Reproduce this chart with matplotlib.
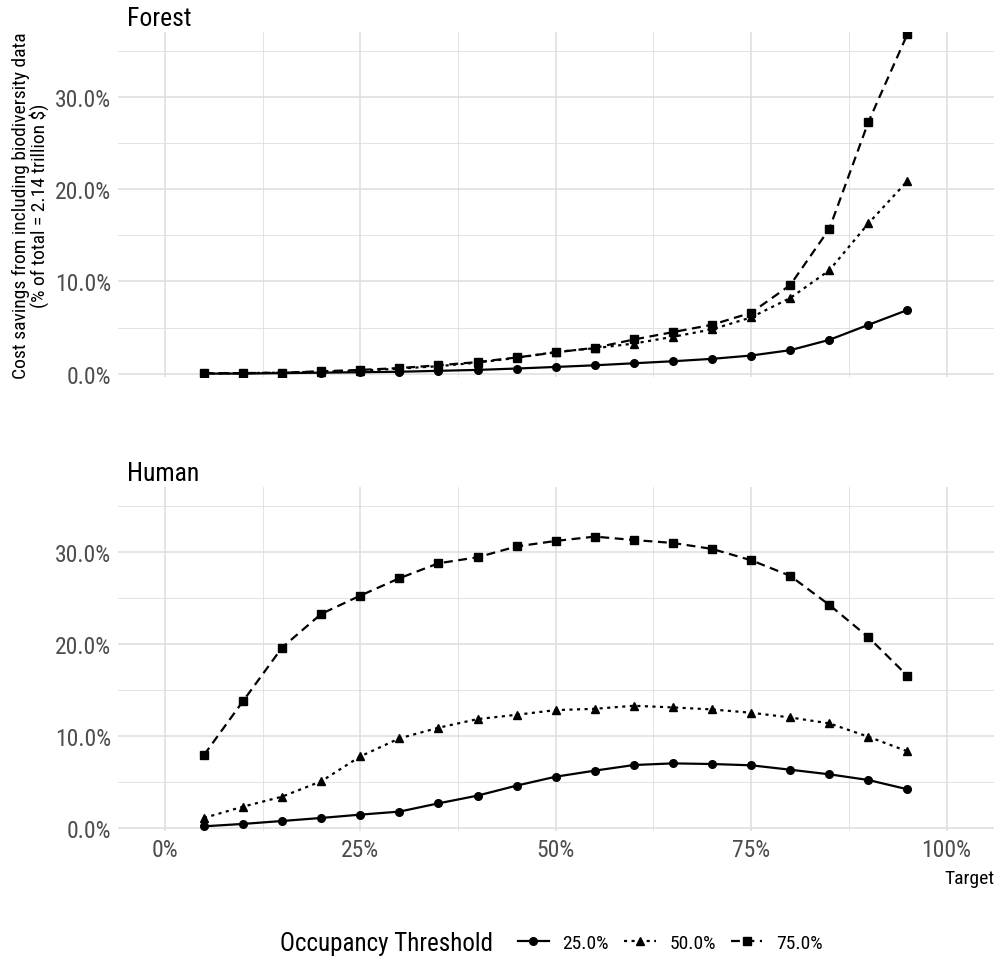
import matplotlib
matplotlib.use("Agg")
import matplotlib.pyplot as plt
from matplotlib import font_manager
from matplotlib.lines import Line2D
from matplotlib.ticker import FuncFormatter

# pick a narrow font if we have one
names = {f.name for f in font_manager.fontManager.ttflist}
for fam in ["Roboto Condensed", "Liberation Sans Narrow", "Roboto"]:
    if fam in names:
        plt.rcParams["font.family"] = fam
        break

# data (percent values)
target = [0.05, 0.10, 0.15, 0.20, 0.25, 0.30, 0.35, 0.40, 0.45, 0.50,
          0.55, 0.60, 0.65, 0.70, 0.75, 0.80, 0.85, 0.90, 0.95]
thresholds = ["25.0%", "50.0%", "75.0%"]

forest_25 = [0.0, 0.0, 0.05, 0.1, 0.15, 0.2, 0.3, 0.4, 0.55, 0.72,
             0.9, 1.12, 1.34, 1.6, 1.96, 2.54, 3.66, 5.29, 6.9]
forest_50 = [0.0, 0.05, 0.1, 0.2, 0.3, 0.55, 0.8, 1.2, 1.7, 2.35,
             2.75, 3.26, 3.99, 4.8, 6.1, 8.2, 11.2, 16.3, 20.9]
forest_75 = [0.05, 0.05, 0.1, 0.25, 0.4, 0.6, 0.9, 1.25, 1.75, 2.3,
             2.8, 3.7, 4.5, 5.3, 6.6, 9.6, 15.7, 27.3, 36.85]

human_25 = [0.14, 0.4, 0.72, 1.05, 1.41, 1.74, 2.64, 3.48, 4.57, 5.54,
            6.2, 6.81, 6.99, 6.92, 6.78, 6.3, 5.8, 5.18, 4.17]
human_50 = [1.05, 2.28, 3.37, 5.04, 7.75, 9.71, 10.87, 11.81, 12.28, 12.79,
            12.93, 13.26, 13.08, 12.86, 12.5, 11.99, 11.34, 9.89, 8.3]
human_75 = [7.9, 13.77, 19.6, 23.26, 25.25, 27.14, 28.77, 29.42, 30.6, 31.2,
            31.67, 31.3, 30.98, 30.33, 29.1, 27.4, 24.24, 20.72, 16.52]

panels = [("Forest", [forest_25, forest_50, forest_75]),
          ("Human", [human_25, human_50, human_75])]

styles = [dict(linestyle="-", marker="o"),
          dict(linestyle=(0, (1.4, 2.0)), marker="^"),
          dict(linestyle=(0, (4, 2.5)), marker="s")]

W, H = 995, 962
fig = plt.figure(figsize=(W / 100, H / 100), dpi=100)

boxes = [(118, 33, 995, 378), (118, 488, 995, 832)]
grid_col = "#DEDEDE"

for (name, series), (l, t, r, b) in zip(panels, boxes):
    ax = fig.add_axes([l / W, 1 - b / H, (r - l) / W, (b - t) / H])
    for vals, st in zip(series, styles):
        ax.plot(target, vals, color="black", linewidth=1.6, markersize=5.5,
                **st)
    ax.set_xlim(-0.06, 1.062)
    ax.set_ylim(-0.37, 37.07)
    ax.set_xticks([0, 0.25, 0.5, 0.75, 1.0])
    ax.set_xticks([0.125, 0.375, 0.625, 0.875], minor=True)
    ax.set_yticks([0, 10, 20, 30])
    ax.set_yticks([5, 15, 25, 35], minor=True)
    ax.yaxis.set_major_formatter(FuncFormatter(lambda v, p: f"{v:.1f}%"))
    ax.xaxis.set_major_formatter(FuncFormatter(lambda v, p: f"{v*100:.0f}%"))
    ax.grid(True, which="major", color=grid_col, linewidth=1.1)
    ax.grid(True, which="minor", color=grid_col, linewidth=0.6)
    ax.set_axisbelow(True)
    for s in ax.spines.values():
        s.set_visible(False)
    ax.tick_params(which="both", length=0, labelsize=17, colors="#4D4D4D",
                   pad=5)
    ax.set_title(name, loc="left", fontsize=18.5, color="black", pad=5,
                 x=0.01)
    if name == "Forest":
        ax.tick_params(axis="x", labelbottom=False)
        ax.set_ylabel("Cost savings from including biodiversity data\n"
                      "(% of total = 2.14 trillion $)", fontsize=14,
                      color="black", labelpad=4, linespacing=0.95)
    else:
        ax.set_xlabel("Target", fontsize=14, color="black", loc="right",
                      labelpad=6)

# legend with the title on the left
fig.text(280 / W, 1 - 944 / H, "Occupancy Threshold", fontsize=18,
         va="center", ha="left")
handles = [Line2D([], [], color="black", linewidth=1.6, markersize=5.5, **st)
           for st in styles]
fig.legend(handles, thresholds, loc="center left",
           bbox_to_anchor=(508 / W, 1 - 944 / H), ncol=3, frameon=False,
           fontsize=14, handlelength=1.6, handletextpad=0.7,
           columnspacing=0.8, borderpad=0)

fig.savefig("out.png", dpi=100)
